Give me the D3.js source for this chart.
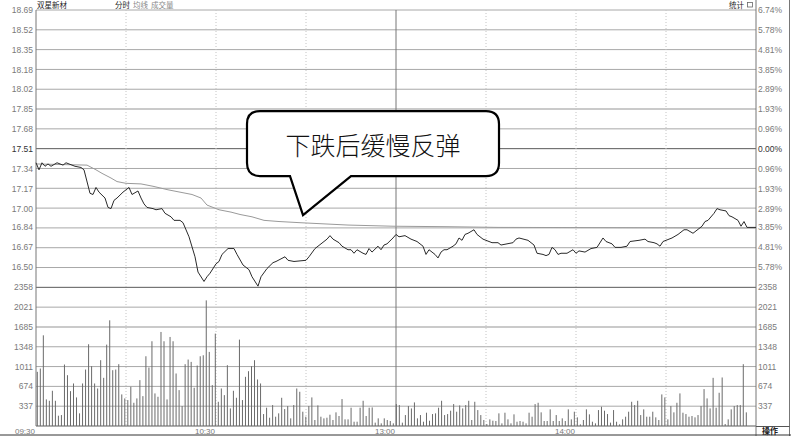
<!DOCTYPE html>
<html>
<head>
<meta charset="utf-8">
<script src="https://cdn.jsdelivr.net/npm/d3@7"></script>
<style>
  body { margin: 0; background: #fff; }
  svg text { font-family: "Liberation Sans", Arial, sans-serif; }
  svg .cjk { font-family: "Noto Sans CJK SC", sans-serif; }
</style>
</head>
<body>
<svg id="chart"></svg>
<script>
// 双星新材 分时图 (intraday, one trading day)
const stockName = '双星新材';
const tabs = ['分时', '均线', '成交量'];
const noteText = '下跌后缓慢反弹';
const preClose = 17.51;

const priceTicks = ['18.69', '18.52', '18.35', '18.18', '18.02', '17.85', '17.68',
  '17.51', '17.34', '17.17', '17.00', '16.84', '16.67', '16.50'];
const pctTicks = ['6.74%', '5.78%', '4.81%', '3.85%', '2.89%', '1.93%', '0.96%',
  '0.00%', '0.96%', '1.93%', '2.89%', '3.85%', '4.81%', '5.78%'];
const volTicks = [2358, 2021, 1685, 1348, 1011, 674, 337];
const timeLabels = ['09:30', '10:30', '13:00', '14:00'];
const timeLabelMin = [0, 60, 120, 180];

// price line (minute from 09:30, price)
const priceMin = [0, 1, 2, 3, 4, 5, 7, 9, 10, 11, 13, 15, 16, 18, 19, 20, 21, 23, 24, 25,
  26, 27, 29, 31, 32, 34, 35, 36, 37, 39, 40, 42, 43, 45, 46, 48, 49, 51, 53, 54,
  56, 57, 58, 60, 61, 62, 64, 66, 67, 69, 71, 72, 74, 75, 77, 79, 80, 83, 84, 86,
  90, 91, 93, 95, 97, 98, 99, 101, 102, 104, 105, 106, 107, 109, 110, 111, 112, 114, 115, 116,
  117, 119, 120, 121, 123, 125, 127, 129, 130, 131, 133, 134, 135, 136, 137, 139, 140, 141, 142, 143,
  144, 146, 147, 149, 150, 152, 154, 155, 157, 159, 160, 161, 164, 166, 167, 169, 170, 171, 172, 173,
  174, 175, 177, 179, 180, 181, 183, 185, 187, 189, 190, 192, 193, 195, 197, 198, 201, 203, 204, 206,
  207, 208, 209, 211, 212, 214, 216, 217, 219, 220, 222, 223, 224, 226, 227, 228, 230, 231, 232, 234,
  235, 236, 237, 240];
const priceVal = [17.39, 17.33, 17.39, 17.36, 17.38, 17.36, 17.39, 17.37, 17.39, 17.38, 17.36, 17.35, 17.33, 17.13, 17.12, 17.18, 17.14, 17.09, 17.01, 17.00,
  17.07, 17.09, 17.14, 17.18, 17.12, 17.15, 17.09, 17.04, 17.01, 17.00, 16.99, 17.00, 16.96, 16.93, 16.90, 16.90, 16.88, 16.76, 16.59, 16.46,
  16.38, 16.42, 16.45, 16.53, 16.55, 16.61, 16.66, 16.66, 16.61, 16.52, 16.48, 16.42, 16.34, 16.42, 16.49, 16.54, 16.55, 16.59, 16.56, 16.55,
  16.56, 16.59, 16.66, 16.70, 16.74, 16.77, 16.74, 16.71, 16.68, 16.65, 16.65, 16.62, 16.65, 16.62, 16.61, 16.66, 16.63, 16.68, 16.65, 16.69,
  16.70, 16.75, 16.78, 16.76, 16.77, 16.74, 16.72, 16.68, 16.61, 16.65, 16.61, 16.58, 16.63, 16.65, 16.65, 16.68, 16.70, 16.75, 16.73, 16.78,
  16.79, 16.82, 16.78, 16.74, 16.73, 16.71, 16.71, 16.69, 16.70, 16.71, 16.74, 16.75, 16.73, 16.69, 16.62, 16.61, 16.60, 16.61, 16.67, 16.65,
  16.61, 16.62, 16.62, 16.65, 16.62, 16.64, 16.63, 16.66, 16.67, 16.75, 16.72, 16.70, 16.67, 16.67, 16.68, 16.72, 16.73, 16.74, 16.72, 16.71,
  16.70, 16.68, 16.72, 16.74, 16.75, 16.78, 16.82, 16.82, 16.79, 16.81, 16.85, 16.89, 16.90, 16.96, 17.00, 16.99, 16.98, 16.94, 16.93, 16.90,
  16.85, 16.89, 16.84, 16.84];

// average price line
const avgMin = [0, 17, 20, 22, 25, 27, 30, 35, 39, 44, 48, 52, 55, 57, 61, 65, 68, 72, 76, 81, 88, 104, 119, 137, 154, 240];
const avgVal = [17.38, 17.37, 17.33, 17.30, 17.26, 17.23, 17.215, 17.21, 17.19, 17.16, 17.14, 17.12, 17.09, 17.03, 16.99,
  16.97, 16.95, 16.93, 16.90, 16.89, 16.88, 16.86, 16.85, 16.846, 16.84, 16.835];

// volume per minute
const volumes = [
  921, 977, 1542, 452, 429, 599, 429, 175, 186, 1045,
  864, 593, 723, 486, 215, 723, 960, 1390, 1017, 723,
  638, 1119, 819, 1384, 1797, 949, 960, 1051, 537, 469,
  441, 667, 395, 469, 780, 508, 1186, 994, 1441, 554,
  497, 1599, 1441, 452, 1514, 1441, 893, 610, 339, 1051,
  1130, 1090, 650, 1028, 1186, 1203, 2136, 1260, 695, 1571,
  412, 638, 525, 1034, 299, 599, 480, 1469, 441, 836,
  932, 1017, 1119, 791, 723, 203, 311, 141, 356, 158,
  215, 480, 288, 339, 130, 356, 638,
  582, 243, 158, 339, 486, 102, 350, 158, 130, 141,
  192, 102, 232, 170, 458, 113, 113, 311, 73, 73,
  311, 429, 170, 311, 316, 57, 130, 45, 130, 102,
  85, 45, 373, 356, 57, 186, 339, 299, 401, 130,
  186, 73, 226, 90, 203, 215, 311, 429, 186, 203,
  260, 373, 243, 350, 299, 356, 429, 102, 412, 271,
  186, 102, 34, 113, 90, 85, 215, 45, 226, 113,
  45, 198, 73, 85, 73, 45, 226, 158, 373, 395,
  232, 85, 85, 283, 85, 186, 85, 130, 85, 283,
  113, 243, 147, 28, 102, 283, 198, 73, 45, 271,
  328, 260, 203, 57, 271, 73, 28, 113, 158, 243,
  412, 356, 429, 186, 283, 158, 158, 243, 147, 102,
  537, 486, 113, 339, 232, 395, 554, 226, 203, 158,
  170, 147, 186, 339, 627, 469, 299, 819, 311, 565,
  825, 34, 113, 283, 339, 356, 356, 1051, 232];

const width = 791;
const height = 436;
const plotLeft = 36;
const plotRight = 756;
const plotTop = 10;
const plotBottom = 426;
const rowH = (plotBottom - plotTop) / 21;
const split = plotTop + 14 * rowH;

const svg = d3.select('#chart')
  .attr('width', width)
  .attr('height', height);

svg.append('rect').attr('width', width).attr('height', height).attr('fill', '#fff');

const x = d3.scaleLinear().domain([0, 240]).range([plotLeft, plotRight]);
const yP = d3.scaleLinear().domain([16.33, 18.69]).range([split, plotTop]);
const yV = d3.scaleLinear().domain([0, 2358]).range([plotBottom, split]);
const xBar = d3.scalePoint().domain(d3.range(volumes.length)).range([37.3, 746.3]);

// horizontal grid
const rows = d3.range(22).map((k) => plotTop + k * rowH);
svg.append('g').selectAll('line')
  .data(rows)
  .join('line')
  .attr('x1', plotLeft)
  .attr('x2', plotRight)
  .attr('y1', (d) => d)
  .attr('y2', (d) => d)
  .attr('stroke', (d, k) => {
    if (k === 7 || k === 14 || k === 21) return '#5a5a5a';
    if (k === 5 || k === 16) return '#cacaca';
    return '#a8a8a8';
  })
  .attr('stroke-width', (d, k) => (k === 5 || k === 16 ? 2 : 1));

// vertical grid, every 30 minutes
const vMins = [30, 60, 90, 120, 150, 180, 210];
svg.append('g').selectAll('line')
  .data(vMins)
  .join('line')
  .attr('x1', (d) => x(d))
  .attr('x2', (d) => x(d))
  .attr('y1', plotTop)
  .attr('y2', plotBottom)
  .attr('stroke', (d) => (d === 120 ? '#777' : '#c4c4c4'))
  .attr('stroke-dasharray', (d) => (d === 120 ? null : '1,2'));

// frame
const frame = svg.append('g').attr('stroke', '#777');
frame.append('line').attr('x1', plotLeft).attr('x2', plotLeft).attr('y1', plotTop).attr('y2', plotBottom);
frame.append('line').attr('x1', plotRight).attr('x2', plotRight).attr('y1', 0).attr('y2', height);
frame.append('line').attr('x1', 789.5).attr('x2', 789.5).attr('y1', 0).attr('y2', height);
svg.append('line').attr('x1', 0).attr('x2', width).attr('y1', 435).attr('y2', 435)
  .attr('stroke', '#333');

// volume bars
svg.append('g').selectAll('line')
  .data(volumes)
  .join('line')
  .attr('x1', (d, i) => xBar(i))
  .attr('x2', (d, i) => xBar(i))
  .attr('y1', yV(0))
  .attr('y2', (d) => yV(d))
  .attr('stroke', '#6a6a6a')
  .attr('stroke-width', 1);

// average line
const avgData = avgMin.map((m, i) => [m, avgVal[i]]);
svg.append('path')
  .datum(avgData)
  .attr('fill', 'none')
  .attr('stroke', '#9a9a9a')
  .attr('stroke-width', 1)
  .attr('d', d3.line().x((d) => x(d[0])).y((d) => yP(d[1])));

// price line
const priceData = priceMin.map((m, i) => [m, priceVal[i]]);
svg.append('path')
  .datum(priceData)
  .attr('fill', 'none')
  .attr('stroke', '#2a2a2a')
  .attr('stroke-width', 1)
  .attr('d', d3.line().x((d) => x(d[0])).y((d) => yP(d[1])));

// axis labels
const labelFont = 8.5;
const leftLabels = svg.append('g')
  .attr('font-size', labelFont)
  .attr('fill', '#7a7a7a')
  .attr('text-anchor', 'end');
leftLabels.selectAll('text.p')
  .data(priceTicks)
  .join('text')
  .attr('class', 'p')
  .attr('x', plotLeft - 3)
  .attr('y', (d) => yP(+d))
  .attr('dy', '0.35em')
  .attr('fill', (d) => (+d === preClose ? '#333' : '#7a7a7a'))
  .text((d) => d);
leftLabels.selectAll('text.v')
  .data(volTicks)
  .join('text')
  .attr('class', 'v')
  .attr('x', plotLeft - 3)
  .attr('y', (d) => yV(d))
  .attr('dy', '0.35em')
  .text((d) => d);

const rightLabels = svg.append('g')
  .attr('font-size', labelFont)
  .attr('fill', '#7a7a7a')
  .attr('text-anchor', 'start');
rightLabels.selectAll('text.p')
  .data(pctTicks)
  .join('text')
  .attr('class', 'p')
  .attr('x', plotRight + 2)
  .attr('y', (d, i) => yP(+priceTicks[i]))
  .attr('dy', '0.35em')
  .attr('fill', (d, i) => (+priceTicks[i] === preClose ? '#333' : '#7a7a7a'))
  .text((d) => d);
rightLabels.selectAll('text.v')
  .data(volTicks)
  .join('text')
  .attr('class', 'v')
  .attr('x', plotRight + 2)
  .attr('y', (d) => yV(d))
  .attr('dy', '0.35em')
  .text((d) => d);

svg.append('g')
  .attr('font-size', 8)
  .attr('fill', '#7a7a7a')
  .attr('text-anchor', 'end')
  .selectAll('text')
  .data(timeLabels)
  .join('text')
  .attr('x', (d, i) => x(timeLabelMin[i]) - 1)
  .attr('y', 433.5)
  .text((d) => d);

// header
svg.append('text').attr('class', 'cjk')
  .attr('x', 37).attr('y', 8)
  .attr('font-size', 7.5).attr('fill', '#222')
  .text(stockName);
svg.append('g').selectAll('text')
  .data(tabs)
  .join('text')
  .attr('class', 'cjk')
  .attr('x', (d, i) => [115, 133, 151][i])
  .attr('y', 8)
  .attr('font-size', 7.5)
  .attr('fill', (d, i) => (i === 0 ? '#222' : '#888'))
  .text((d) => d);
svg.append('text').attr('class', 'cjk')
  .attr('x', 729).attr('y', 8)
  .attr('font-size', 7.5).attr('fill', '#222')
  .text('统计');
svg.append('rect').attr('x', 747.5).attr('y', 2.5).attr('width', 5).attr('height', 4.5)
  .attr('fill', 'none').attr('stroke', '#666').attr('stroke-width', 0.8);

// 操作 box
svg.append('line').attr('x1', plotRight).attr('x2', 789.5).attr('y1', 426.5).attr('y2', 426.5)
  .attr('stroke', '#555');
svg.append('text').attr('class', 'cjk')
  .attr('x', 770).attr('y', 434)
  .attr('text-anchor', 'middle')
  .attr('font-size', 8).attr('font-weight', 'bold').attr('fill', '#222')
  .text('操作');

// callout bubble, anchored at a point on the chart
const tip = [x(89), yP(16.945)];
const bx0 = tip[0] - 56;
const bx1 = tip[0] + 196;
const by0 = tip[1] - 104;
const by1 = tip[1] - 39;
const r = 13;
const bubble = d3.path();
bubble.moveTo(bx0 + r, by0);
bubble.lineTo(bx1 - r, by0);
bubble.quadraticCurveTo(bx1, by0, bx1, by0 + r);
bubble.lineTo(bx1, by1 - r);
bubble.quadraticCurveTo(bx1, by1, bx1 - r, by1);
bubble.lineTo(tip[0] + 48, by1);
bubble.lineTo(tip[0], tip[1]);
bubble.lineTo(tip[0] - 13, by1);
bubble.lineTo(bx0 + r, by1);
bubble.quadraticCurveTo(bx0, by1, bx0, by1 - r);
bubble.lineTo(bx0, by0 + r);
bubble.quadraticCurveTo(bx0, by0, bx0 + r, by0);
bubble.closePath();
svg.append('path')
  .attr('d', bubble.toString())
  .attr('fill', '#fff')
  .attr('stroke', '#000')
  .attr('stroke-width', 2.2)
  .attr('stroke-linejoin', 'miter');
svg.append('text').attr('class', 'cjk')
  .attr('x', (bx0 + bx1) / 2)
  .attr('y', (by0 + by1) / 2 + 3)
  .attr('dy', '0.35em')
  .attr('text-anchor', 'middle')
  .attr('font-size', 25)
  .attr('font-weight', 300)
  .attr('fill', '#111')
  .text(noteText);
</script>
</body>
</html>
